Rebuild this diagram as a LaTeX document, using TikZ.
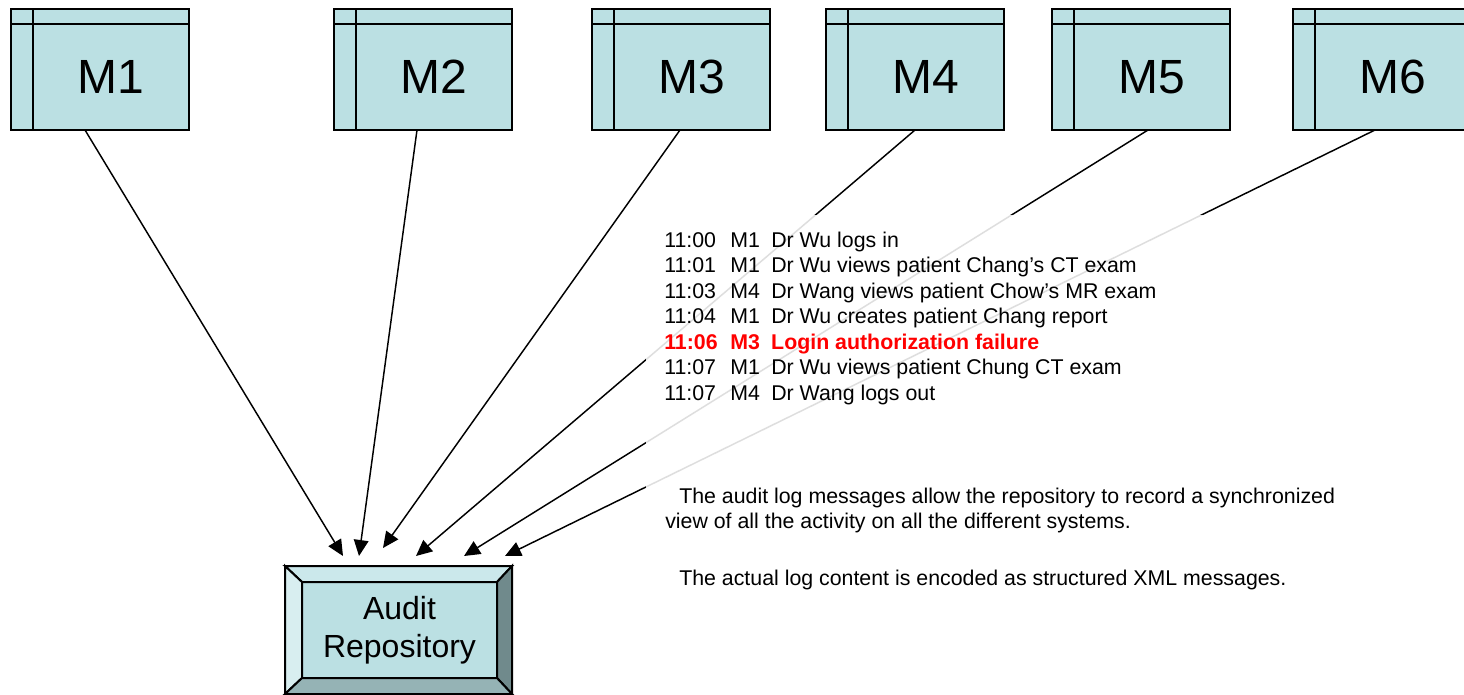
\documentclass[tikz,border=0pt]{standalone}
\usepackage{fontspec}
\setmainfont{Liberation Sans}
\usetikzlibrary{arrows.meta,calc}
\definecolor{mfill}{RGB}{187,224,227}
\definecolor{bevtop}{RGB}{203,232,235}
\definecolor{bevleft}{RGB}{216,238,240}
\definecolor{bevright}{RGB}{112,138,140}
\definecolor{bevbottom}{RGB}{149,179,181}
\newcommand{\logline}[3]{\makebox[49.5pt][l]{#1}\makebox[30.75pt][l]{#2}#3}
\begin{document}
\begin{tikzpicture}[x=0.75pt, y=-0.75pt, >={Triangle[length=12pt,width=11pt]},
    mbox/.style={draw, line width=1.5pt, fill=mfill, minimum width=133.5pt, minimum height=90.75pt, inner sep=0pt, outer sep=0pt, anchor=north west},
    mlabel/.style={font=\fontsize{36}{40}\selectfont},
    logtext/.style={anchor=base west, inner sep=0pt, font=\fontsize{16}{19}\selectfont},
    note/.style={anchor=base west, inner sep=0pt, font=\fontsize{16}{19}\selectfont}]
    \clip (0,0) rectangle (1464,694);
    % machines
    \foreach \lx/\n in {11/1,334/2,592/3,826/4,1052/5,1293/6}{
        \node[mbox] (m\n) at (\lx,9) {};
        \draw[line width=1.5pt] ($(m\n.north west)+(0,15)$) -- ($(m\n.north east)+(0,15)$);
        \draw[line width=1.5pt] ($(m\n.north west)+(22,0)$) -- ($(m\n.south west)+(22,0)$);
        \node[mlabel] (l\n) at ($(m\n.north west)+(100,68)$) {M\n};
    }
    % arrows to the repository
    \coordinate (e1) at (343,556);
    \coordinate (e2) at (359,556);
    \coordinate (e3) at (383,548);
    \coordinate (e4) at (416,556);
    \coordinate (e5) at (464,556);
    \coordinate (e6) at (505,556);
    \foreach \n/\dx in {1/-15,2/-6,3/-1,4/0,5/7,6/-7}
        \draw[->, line width=1.1pt] ($(m\n.south)+(\dx,0)$) -- (e\n);
    % text panel
    \fill[white, fill opacity=0.87] (646,215) rectangle (1340,600);
    \node[logtext] (t1) at (664,247) {\logline{11:00}{M1}{Dr Wu logs in}};
    \node[logtext] (t2) at (664,272.5) {\logline{11:01}{M1}{Dr Wu views patient Chang’s CT exam}};
    \node[logtext] (t3) at (664,298) {\logline{11:03}{M4}{Dr Wang views patient Chow’s MR exam}};
    \node[logtext] (t4) at (664,323.5) {\logline{11:04}{M1}{Dr Wu creates patient Chang report}};
    \node[logtext, text=red, font=\fontsize{16}{19}\selectfont\bfseries] (t5) at (664,349) {\logline{11:06}{M3}{Login authorization failure}};
    \node[logtext] (t6) at (664,374.5) {\logline{11:07}{M1}{Dr Wu views patient Chung CT exam}};
    \node[logtext] (t7) at (664,400) {\logline{11:07}{M4}{Dr Wang logs out}};
    \node[note] (n1) at (679,503) {The audit log messages allow the repository to record a synchronized};
    \node[note] (n2) at (665,528) {view of all the activity on all the different systems.};
    \node[note] (n3) at (679,585) {The actual log content is encoded as structured XML messages.};
    % audit repository
    \node[draw, line width=1.5pt, minimum width=170.25pt, minimum height=96pt, inner sep=0pt, outer sep=0pt] (frame) at (398.5,630) {};
    \node[draw, line width=1.5pt, fill=mfill, minimum width=146.25pt, minimum height=72pt, inner sep=0pt, outer sep=0pt, align=center, font=\fontsize{24}{28.5}\selectfont] (repo) at (399.5,630) {Audit\\Repository};
    \draw[line width=1.5pt, fill=bevtop] (frame.north west) -- (frame.north east) -- (repo.north east) -- (repo.north west) -- cycle;
    \draw[line width=1.5pt, fill=bevleft] (frame.north west) -- (repo.north west) -- (repo.south west) -- (frame.south west) -- cycle;
    \draw[line width=1.5pt, fill=bevright] (frame.north east) -- (frame.south east) -- (repo.south east) -- (repo.north east) -- cycle;
    \draw[line width=1.5pt, fill=bevbottom] (frame.south west) -- (repo.south west) -- (repo.south east) -- (frame.south east) -- cycle;
\end{tikzpicture}
\end{document}
